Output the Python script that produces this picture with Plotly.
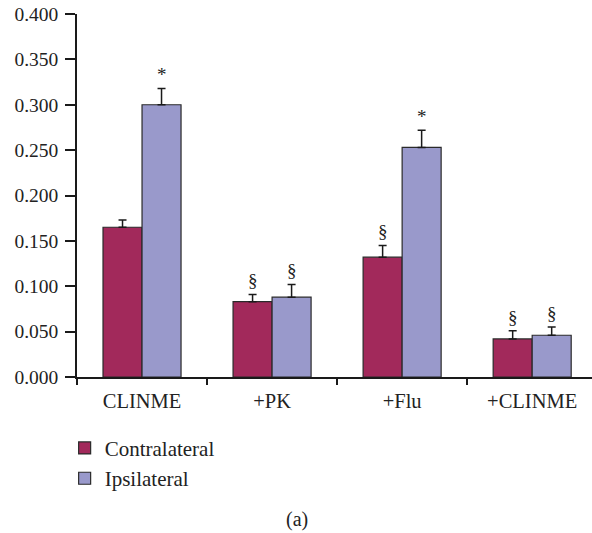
import plotly.graph_objects as go

categories = ["CLINME", "+PK", "+Flu", "+CLINME"]
contralateral = [0.165, 0.083, 0.132, 0.042]
contralateral_err = [0.008, 0.008, 0.013, 0.009]
ipsilateral = [0.300, 0.088, 0.253, 0.046]
ipsilateral_err = [0.018, 0.014, 0.019, 0.009]
contra_marks = ["", "§", "§", "§"]
ipsi_marks = ["*", "§", "*", "§"]
y_ticks = [0, 0.05, 0.1, 0.15, 0.2, 0.25, 0.3, 0.35, 0.4]

FONT = "Liberation Serif"
C_COLOR = "#A2295B"
I_COLOR = "#9999CB"

W, H = 592, 533
ML, MT, MB, MR = 77, 14, 156, 0
PW, PH = W - ML - MR, H - MT - MB

fig = go.Figure()
fig.add_trace(go.Bar(
    x=categories, y=contralateral, name="Contralateral",
    marker=dict(color=C_COLOR, line=dict(color="#2a2a2a", width=1.2)),
    error_y=dict(type="data", array=contralateral_err, arrayminus=[0]*4, symmetric=False,
                 color="#1a1a1a", thickness=1.5, width=4),
))
fig.add_trace(go.Bar(
    x=categories, y=ipsilateral, name="Ipsilateral",
    marker=dict(color=I_COLOR, line=dict(color="#2a2a2a", width=1.2)),
    error_y=dict(type="data", array=ipsilateral_err, arrayminus=[0]*4, symmetric=False,
                 color="#1a1a1a", thickness=1.5, width=4),
))

annotations = []
for i, c in enumerate(categories):
    for vals, errs, marks, shift in ((contralateral, contralateral_err, contra_marks, -19.5),
                                     (ipsilateral, ipsilateral_err, ipsi_marks, 19.5)):
        if marks[i]:
            annotations.append(dict(
                x=c, y=vals[i] + errs[i], xref="x", yref="y", text=marks[i],
                showarrow=False, xshift=shift, yanchor="bottom", yshift=1,
                font=dict(family=FONT, size=19, color="#222"),
            ))
annotations.append(dict(
    xref="paper", yref="paper", x=(297 - ML) / PW, y=(PH + MT - 519) / PH,
    text="(a)", showarrow=False, xanchor="center", yanchor="middle",
    font=dict(family=FONT, size=20, color="#222"),
))

fig.update_layout(
    width=W, height=H,
    margin=dict(l=ML, r=MR, t=MT, b=MB, pad=0, autoexpand=False),
    paper_bgcolor="white", plot_bgcolor="white",
    barmode="group", bargap=0.4, bargroupgap=0,
    font=dict(family=FONT, size=20, color="#222"),
    showlegend=True,
    legend=dict(x=-0.024, y=-0.14, xanchor="left", yanchor="top", orientation="v",
                font=dict(family=FONT, size=21, color="#222"), tracegroupgap=0,
                bgcolor="rgba(0,0,0,0)"),
    annotations=annotations,
)
fig.update_xaxes(
    range=[-0.5, 3.46], showline=True, linecolor="#1a1a1a", linewidth=1.5,
    ticks="outside", tickson="boundaries", ticklen=6, tickwidth=1.5, tickcolor="#1a1a1a",
    showgrid=False, zeroline=False, ticklabelstandoff=5, automargin=False,
    tickfont=dict(family=FONT, size=20.5, color="#222"),
)
fig.update_yaxes(
    range=[0, 0.4], tickvals=y_ticks, tickformat=".3f", showline=True, linecolor="#1a1a1a",
    linewidth=1.5, ticks="outside", ticklen=10, tickwidth=1.5, tickcolor="#1a1a1a",
    showgrid=False, zeroline=False, ticklabelstandoff=3, ticklabeloverflow="allow",
    automargin=False,
    tickfont=dict(family=FONT, size=19.5, color="#222"),
)

fig.write_html("out.html", config={"displayModeBar": False},
               post_script="document.body.style.margin='0';")
